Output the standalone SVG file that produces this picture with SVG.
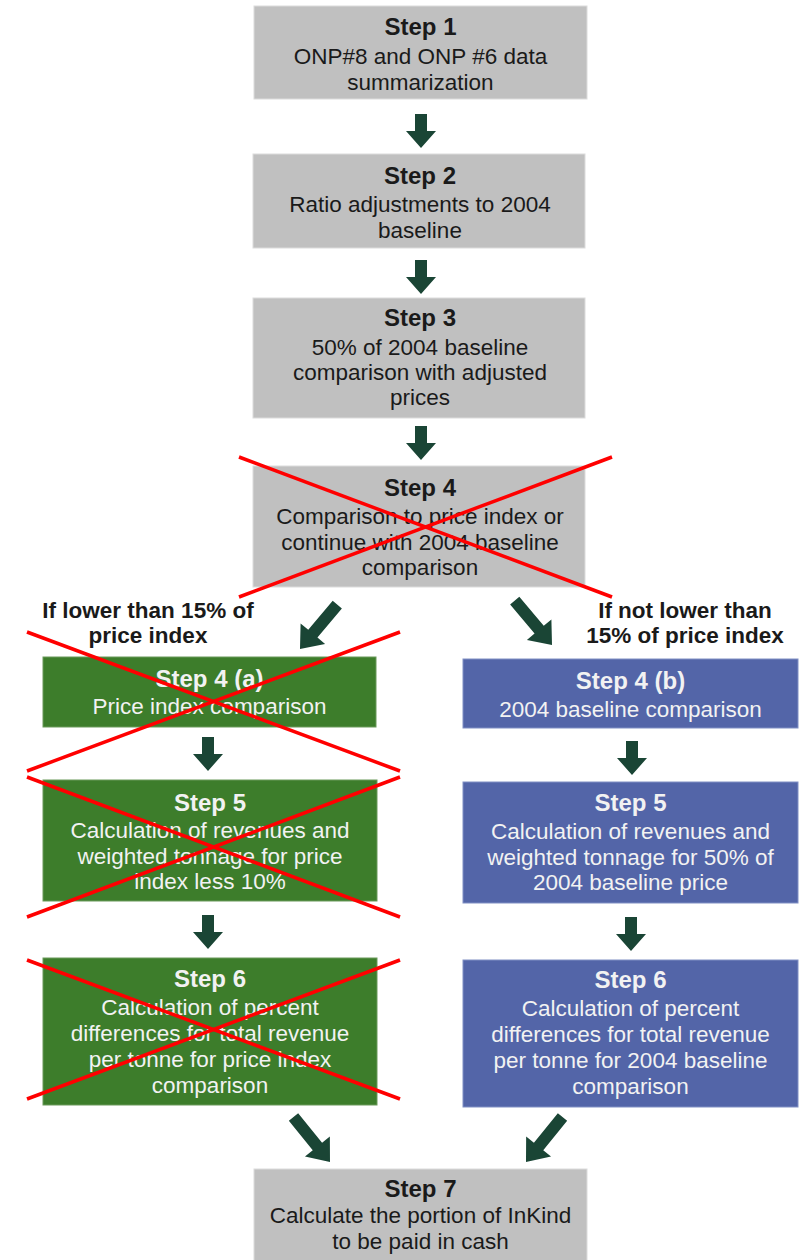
<svg xmlns="http://www.w3.org/2000/svg" width="805" height="1260" viewBox="0 0 805 1260">
<style>
text{font-family:"Liberation Sans",Arial,sans-serif;text-anchor:middle}
.t{font-size:24px;font-weight:bold}
.b{font-size:22.5px}
.l{font-size:22.5px;font-weight:bold;fill:#1a1a1a}
.gray rect{fill:#c0c0c0;stroke:#dcdcdc;stroke-width:1}
.gray text{fill:#1a1a1a}
.green rect{fill:#3d7d2b;stroke:#6a9a5a;stroke-width:1}
.blue rect{fill:#5365a8;stroke:#8090c4;stroke-width:1}
.green text,.blue text{fill:#f2f2f2}
.arr{fill:#1a4535}
.x line{stroke:#ff0000;stroke-width:3.5}
</style>
<defs>
<path id="va" d="M-6,-34 L6,-34 L6,-17 L15,-17 L0,0 L-15,-17 L-6,-17 Z"/>
<path id="da" d="M-6,-58 L6,-58 L6,-20 L16,-20 L0,0 L-16,-20 L-6,-20 Z"/>
</defs>

<g id="connectors" class="arr">
<use href="#va" transform="translate(421,148)"/>
<use href="#va" transform="translate(421,294)"/>
<use href="#va" transform="translate(421,460)"/>
<use href="#da" transform="translate(300,649) rotate(40)"/>
<use href="#da" transform="translate(552,645) rotate(-40)"/>
<use href="#va" transform="translate(208,771)"/>
<use href="#va" transform="translate(632,775)"/>
<use href="#va" transform="translate(208,949)"/>
<use href="#va" transform="translate(631,951)"/>
<use href="#da" transform="translate(330,1162) rotate(-39)"/>
<use href="#da" transform="translate(526,1162) rotate(39)"/>
</g>

<g id="step1" class="gray">
<rect x="254" y="6" width="333" height="93"/>
<text class="t" x="420.5" y="35">Step 1</text>
<text class="b" x="420.5" y="64">ONP#8 and ONP #6 data</text>
<text class="b" x="420.5" y="90">summarization</text>
</g>

<g id="step2" class="gray">
<rect x="253" y="154" width="332" height="94"/>
<text class="t" x="420" y="184">Step 2</text>
<text class="b" x="420" y="212">Ratio adjustments to 2004</text>
<text class="b" x="420" y="238">baseline</text>
</g>

<g id="step3" class="gray">
<rect x="253" y="298" width="332" height="120"/>
<text class="t" x="420" y="326">Step 3</text>
<text class="b" x="420" y="355">50% of 2004 baseline</text>
<text class="b" x="420" y="380">comparison with adjusted</text>
<text class="b" x="420" y="405">prices</text>
</g>

<g id="step4" class="gray">
<rect x="253" y="466" width="332" height="121"/>
<text class="t" x="420" y="496">Step 4</text>
<text class="b" x="420" y="524">Comparison to price index or</text>
<text class="b" x="420" y="550">continue with 2004 baseline</text>
<text class="b" x="420" y="575">comparison</text>
</g>

<g id="label-left">
<text class="l" x="148" y="618">If lower than 15% of</text>
<text class="l" x="148" y="643">price index</text>
</g>
<g id="label-right">
<text class="l" x="685" y="618">If not lower than</text>
<text class="l" x="685" y="643">15% of price index</text>
</g>

<g id="step4a" class="green">
<rect x="43" y="657" width="333" height="70"/>
<text class="t" x="209.5" y="687">Step 4 (a)</text>
<text class="b" x="209.5" y="714">Price index comparison</text>
</g>

<g id="step4b" class="blue">
<rect x="463" y="659" width="335" height="69"/>
<text class="t" x="630.5" y="689">Step 4 (b)</text>
<text class="b" x="630.5" y="717">2004 baseline comparison</text>
</g>

<g id="step5a" class="green">
<rect x="43" y="780" width="334" height="121"/>
<text class="t" x="210" y="811">Step 5</text>
<text class="b" x="210" y="838">Calculation of revenues and</text>
<text class="b" x="210" y="864">weighted tonnage for price</text>
<text class="b" x="210" y="889">index less 10%</text>
</g>

<g id="step5b" class="blue">
<rect x="463" y="782" width="335" height="121"/>
<text class="t" x="630.5" y="811">Step 5</text>
<text class="b" x="630.5" y="839">Calculation of revenues and</text>
<text class="b" x="630.5" y="865">weighted tonnage for 50% of</text>
<text class="b" x="630.5" y="890">2004 baseline price</text>
</g>

<g id="step6a" class="green">
<rect x="43" y="958" width="334" height="147"/>
<text class="t" x="210" y="987">Step 6</text>
<text class="b" x="210" y="1015">Calculation of percent</text>
<text class="b" x="210" y="1041">differences for total revenue</text>
<text class="b" x="210" y="1067">per tonne for price index</text>
<text class="b" x="210" y="1093">comparison</text>
</g>

<g id="step6b" class="blue">
<rect x="463" y="960" width="335" height="147"/>
<text class="t" x="630.5" y="988">Step 6</text>
<text class="b" x="630.5" y="1016">Calculation of percent</text>
<text class="b" x="630.5" y="1042">differences for total revenue</text>
<text class="b" x="630.5" y="1068">per tonne for 2004 baseline</text>
<text class="b" x="630.5" y="1094">comparison</text>
</g>

<g id="step7" class="gray">
<rect x="254" y="1169" width="333" height="100"/>
<text class="t" x="420.5" y="1197">Step 7</text>
<text class="b" x="420.5" y="1223">Calculate the portion of InKind</text>
<text class="b" x="420.5" y="1249">to be paid in cash</text>
</g>

<g id="crosses" class="x">
<line x1="239" y1="457" x2="612" y2="597"/>
<line x1="612" y1="457" x2="239" y2="597"/>
<line x1="27" y1="632" x2="400" y2="771"/>
<line x1="400" y1="632" x2="27" y2="771"/>
<line x1="27" y1="777" x2="400" y2="917"/>
<line x1="400" y1="777" x2="27" y2="917"/>
<line x1="27" y1="960" x2="400" y2="1099"/>
<line x1="400" y1="960" x2="27" y2="1099"/>
</g>
</svg>
